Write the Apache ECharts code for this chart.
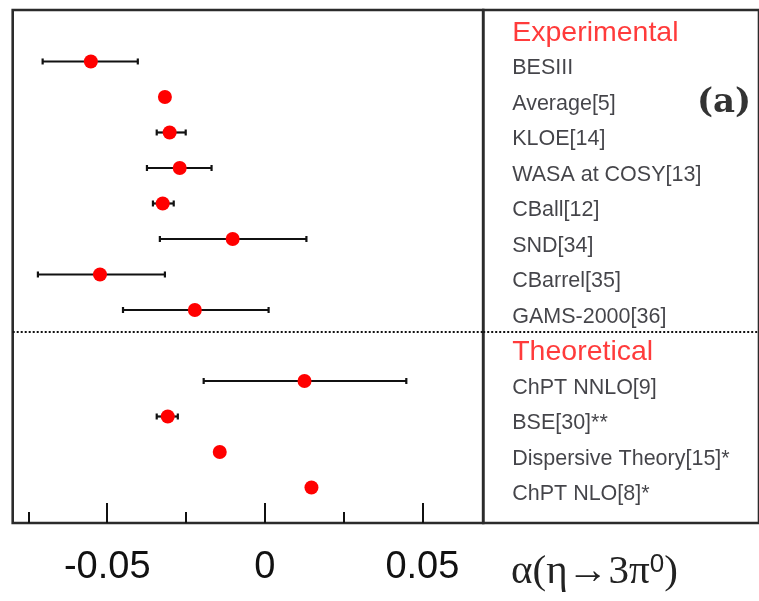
<!DOCTYPE html>
<html>
<head>
<meta charset="utf-8">
<script src="https://cdn.jsdelivr.net/npm/echarts@6/dist/echarts.min.js"></script>
<style>html,body{margin:0;padding:0;background:#fff}#c{width:759px;height:601px}</style>
</head>
<body>
<div id="c"></div>
<script>
// Rows (top to bottom); headers have no value
const rowNames = ['Experimental','BESIII','Average[5]','KLOE[14]','WASA at COSY[13]','CBall[12]','SND[34]','CBarrel[35]','GAMS-2000[36]',
                  'Theoretical','ChPT NNLO[9]','BSE[30]**','Dispersive Theory[15]*','ChPT NLO[8]*'];
const headerNames = ['Experimental','Theoretical'];
const central = [null,-0.0552,-0.0317,-0.0302,-0.0270,-0.0324,-0.0102,-0.0523,-0.0222,
                 null, 0.0126,-0.0308,-0.0143, 0.0148];
const errLow  = [null,-0.0705,null,-0.0343,-0.0374,-0.0355,-0.0333,-0.0720,-0.0450,
                 null,-0.0194,-0.0343,null,null];
const errHigh = [null,-0.0403,null,-0.0251,-0.0169,-0.0289, 0.0132,-0.0317, 0.0012,
                 null, 0.0449,-0.0276,null,null];
const majorTicks = [-0.05, 0, 0.05];
const minorTicks = [-0.075, -0.025, 0.025];
const xTitle = 'α(η→3π';

const pointData = [], errData = [], labelData = [];
rowNames.forEach((n, i) => {
  labelData.push([0, i, n]);
  if (central[i] !== null) pointData.push([central[i], i]);
  if (errLow[i] !== null) errData.push([errLow[i], errHigh[i], i]);
});

const chart = echarts.init(document.getElementById('c'), null, {renderer: 'canvas'});
const frame = '#2b2b2b';
const ink = '#111';
chart.setOption({
  animation: false,
  backgroundColor: '#fff',
  grid: [
    {left: 12.7, top: 10, width: 470.5, height: 513, show: true, borderColor: frame, borderWidth: 2.6, backgroundColor: 'transparent'},
    {left: 483.2, top: 10, width: 300, height: 513, show: true, borderColor: frame, borderWidth: 2.6, backgroundColor: 'transparent'}
  ],
  xAxis: [
    {type: 'value', gridIndex: 0, min: -0.08, max: 0.0693, position: 'bottom',
     axisLine: {show: false, onZero: false}, splitLine: {show: false},
     axisTick: {show: true, inside: true, length: 20, customValues: majorTicks, lineStyle: {color: ink, width: 2}},
     axisLabel: {show: true, customValues: majorTicks, margin: 26, fontSize: 38, color: ink, fontFamily: 'Liberation Sans',
                 formatter: v => (Math.abs(v) < 1e-9 ? '0' : String(+v.toFixed(3)))}},
    {type: 'value', gridIndex: 0, min: -0.08, max: 0.0693, position: 'bottom', offset: 0,
     axisLine: {show: false, onZero: false}, splitLine: {show: false}, axisLabel: {show: false},
     axisTick: {show: true, inside: true, length: 11, customValues: minorTicks, lineStyle: {color: ink, width: 2}}},
    {type: 'value', gridIndex: 1, min: 0, max: 1, show: false}
  ],
  yAxis: [
    {type: 'value', gridIndex: 0, inverse: true, min: -0.45, max: 14, show: false},
    {type: 'value', gridIndex: 1, inverse: true, min: -0.45, max: 14, show: false}
  ],
  series: [
    {type: 'custom', xAxisIndex: 0, yAxisIndex: 0, data: errData, z: 2,
     renderItem: (params, api) => {
       const a = api.coord([api.value(0), api.value(2)]);
       const b = api.coord([api.value(1), api.value(2)]);
       const c = 3;
       const st = {stroke: ink, lineWidth: 2.2};
       return {type: 'group', children: [
         {type: 'line', shape: {x1: a[0], y1: a[1], x2: b[0], y2: b[1]}, style: st},
         {type: 'line', shape: {x1: a[0], y1: a[1]-c, x2: a[0], y2: a[1]+c}, style: st},
         {type: 'line', shape: {x1: b[0], y1: b[1]-c, x2: b[0], y2: b[1]+c}, style: st}
       ]};
     }},
    {type: 'scatter', xAxisIndex: 0, yAxisIndex: 0, data: pointData, symbol: 'circle', symbolSize: 14, z: 3,
     itemStyle: {color: '#ff0000', opacity: 1},
     markLine: {silent: true, symbol: 'none', label: {show: false},
                lineStyle: {color: '#111', type: [2, 2], width: 2}, data: [{yAxis: 8.6}]}},
    {type: 'scatter', xAxisIndex: 2, yAxisIndex: 1, data: labelData, symbolSize: 0,
     label: {show: true, position: 'right', distance: 0, offset: [29, 7],
             formatter: p => headerNames.includes(p.value[2]) ? '{h|' + p.value[2] + '}' : '{n|' + p.value[2] + '}',
             rich: {h: {fontSize: 28.5, color: '#ff0a0a', fontFamily: 'Liberation Sans'},
                    n: {fontSize: 21.5, color: '#15151c', fontFamily: 'Liberation Sans'}}},
     markLine: {silent: true, symbol: 'none', label: {show: false},
                lineStyle: {color: '#111', type: [2, 2], width: 2}, data: [{yAxis: 8.6}]}}
  ],
  graphic: [
    {type: 'text', left: 697, top: 86, style: {text: '(a)', fontSize: 34, fontWeight: 'bold', fontFamily: 'DejaVu Serif', fill: '#333'}},
    {type: 'text', left: 511, top: 552, style: {
      text: '{a|' + xTitle + '}{s|0}{a|)}',
      rich: {a: {fontSize: 41, fontFamily: 'Liberation Serif', fill: '#222', color: '#222', verticalAlign: 'bottom'},
             s: {fontSize: 26, fontFamily: 'Liberation Sans', fill: '#222', color: '#222', verticalAlign: 'top'}}}}
  ]
});
</script>
</body>
</html>
